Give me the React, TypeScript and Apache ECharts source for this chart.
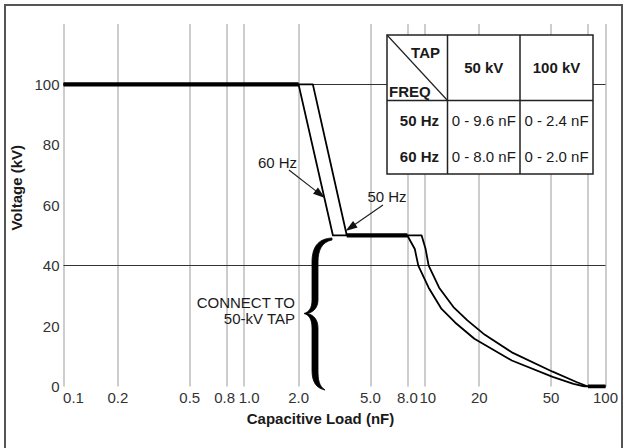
import React, { useEffect, useRef } from 'react';
import * as echarts from 'echarts';

// ---------- data ----------
const xTicks = [0.1, 0.2, 0.5, 0.8, 1.0, 2.0, 5.0, 8.0, 10, 20, 50, 80, 100];
const xTickLabels = ['0.1', '0.2', '0.5', '0.8', '1.0', '2.0', '5.0', '8.0', '10', '20', '50', '80', '100'];
const yRefLines = [40, 100];

// [capacitive load nF, voltage kV]
const curve60Hz: [number, number][] = [
  [0.1, 100], [2.0, 100], [3.1, 50], [8.0, 50], [8.8, 45.5], [9.2, 40], [10.5, 32.7],
  [12.3, 25.9], [14.7, 21.2], [18.8, 15.8], [30.3, 8.6], [51, 3.2], [66.5, 0.85], [77, 0], [100, 0],
];
const curve50Hz: [number, number][] = [
  [0.1, 100], [2.4, 100], [3.7, 50], [9.6, 50], [10.1, 45.5], [10.5, 40], [12.0, 32.7],
  [14.4, 26.3], [17.2, 21.9], [21.5, 17.1], [30.3, 11.3], [51, 4.9], [69, 1.5], [80, 0], [100, 0],
];
// segments where both curves coincide (drawn heavier)
const sharedLimits: [number, number][][] = [
  [[0.1, 100], [2.0, 100]],
  [[3.7, 50], [8.0, 50]],
  [[80, 0], [100, 0]],
];

const tapHeaders = ['50 kV', '100 kV'];
const freqRows = ['50 Hz', '60 Hz'];
const tapRanges = [
  ['0 - 9.6 nF', '0 - 2.4 nF'],
  ['0 - 8.0 nF', '0 - 2.0 nF'],
];

// ---------- style ----------
const FONT = '"Liberation Sans", Arial, Helvetica, sans-serif';
const xLabelShift = [10, 0, 0, -2, 5, 0, 0, 0, 3, 0, 0, -3, 0];

const BRACE_PATH =
  'M332 238 C320 238.5 312 245 312 262 L312 300 C312 308 309 312 304 313.5 ' +
  'C309 315 312 319 312 328 L312 370 C312 382 316 388 325 390 ' +
  'C319 386 318 380 318 370 L318 328 C318 320 314 315 307.5 313.5 ' +
  'C314 312 318 307 318 300 L318 262 C318 250 322 242 332 240 Z';
echarts.graphic.registerShape('brace', echarts.graphic.extendPath(BRACE_PATH, {}));

function txt(x: number, y: number, text: string, o: { align?: string; bold?: boolean } = {}) {
  return {
    type: 'text',
    x,
    y,
    z: 10,
    style: {
      text,
      fontFamily: FONT,
      fontSize: 15,
      fontWeight: o.bold ? 'bold' : 'normal',
      fill: '#1a1a1a',
      align: o.align || 'center',
      verticalAlign: 'middle',
    },
  };
}

function seg(x1: number, y1: number, x2: number, y2: number, w = 1.5, c = '#222') {
  return { type: 'line', z: 10, shape: { x1, y1, x2, y2 }, style: { stroke: c, lineWidth: w } };
}

function arrow(x1: number, y1: number, x2: number, y2: number) {
  const dx = x2 - x1;
  const dy = y2 - y1;
  const L = Math.hypot(dx, dy);
  const ux = dx / L;
  const uy = dy / L;
  const hl = 12;
  const hw = 4;
  const bx = x2 - ux * hl;
  const by = y2 - uy * hl;
  return [
    seg(x1, y1, bx + ux * 2, by + uy * 2, 1.2, '#222'),
    {
      type: 'polygon',
      z: 10,
      shape: { points: [[x2, y2], [bx - uy * hw, by + ux * hw], [bx + uy * hw, by - ux * hw]] },
      style: { fill: '#111' },
    },
  ];
}

export default function App() {
  const ref = useRef<HTMLDivElement>(null);

  useEffect(() => {
    if (!ref.current) return;
    const chart = echarts.init(ref.current, undefined, { renderer: 'svg' });

    const tickPos = xTicks.map((v) => Math.min(2, Math.max(-1, Math.log10(v))));
    const rich: Record<string, any> = {};
    xLabelShift.forEach((s, i) => {
      rich['t' + i] = {
        fontFamily: FONT,
        fontSize: 15,
        color: '#333',
        padding: s >= 0 ? [0, 0, 0, 2 * s] : [0, -2 * s, 0, 0],
      };
    });

    const table = {
      x: 387, y: 35, c1: 447.5, c2: 520, r: 100.5, right: 593, bottom: 174,
    };
    const colCenters = [(table.c1 + table.c2) / 2, (table.c2 + table.right) / 2];
    const rowYs = [120, 156];

    const graphics: any[] = [
      {
        type: 'rect',
        z: 0,
        shape: { x: 5, y: 5, width: 617, height: 470 },
        style: { fill: 'none', stroke: '#555', lineWidth: 2 },
      },
      {
        type: 'rect',
        z: 9,
        shape: { x: table.x, y: table.y, width: table.right - table.x, height: table.bottom - table.y },
        style: { fill: '#fff', stroke: '#222', lineWidth: 1.5 },
      },
      seg(table.c1, table.y, table.c1, table.bottom),
      seg(table.c2, table.y, table.c2, table.bottom),
      seg(table.x, table.r, table.right, table.r),
      seg(table.x, table.y, table.c1, table.r, 1.2),
      txt(440, 52, 'TAP', { align: 'right', bold: true }),
      txt(389, 91, 'FREQ', { align: 'left', bold: true }),
      ...tapHeaders.map((h, i) => txt(colCenters[i], 67, h, { bold: true })),
      ...freqRows.map((f, r) => txt(439, rowYs[r], f, { align: 'right', bold: true })),
      ...tapRanges.flatMap((row, r) => row.map((s, c) => txt(colCenters[c], rowYs[r], s))),
      txt(277.5, 162, '60 Hz'),
      ...arrow(289, 170, 325, 198),
      txt(387, 196, '50 Hz'),
      ...arrow(383, 205, 345.5, 231),
      txt(295, 302.7, 'CONNECT TO', { align: 'right' }),
      txt(295, 318.3, '50-kV TAP', { align: 'right' }),
      {
        type: 'brace',
        z: 10,
        x: 0,
        y: 0,
        style: { fill: '#000', stroke: '#000', lineWidth: 0.8, lineJoin: 'round' },
      },
    ];

    const option: any = {
      animation: false,
      backgroundColor: '#fff',
      grid: { left: 63.5, right: 18.5, top: 24, bottom: 61.5, containLabel: false, outerBoundsMode: 'none' },
      xAxis: [
        { type: 'log', logBase: 10, min: 0.1, max: 100, show: false },
        {
          type: 'value',
          min: -1,
          max: 2,
          position: 'bottom',
          axisLine: { show: false },
          axisTick: { show: false },
          splitLine: { show: false },
          axisLabel: {
            customValues: tickPos,
            showMinLabel: true,
            showMaxLabel: true,
            hideOverlap: false,
            fontFamily: FONT,
            fontSize: 15,
            color: '#333',
            margin: 3,
            rich,
            formatter: (v: number) => {
              let best = 0;
              tickPos.forEach((p, i) => {
                if (Math.abs(p - v) < Math.abs(tickPos[best] - v)) best = i;
              });
              return '{t' + best + '|' + xTickLabels[best] + '}';
            },
          },
          name: 'Capacitive Load (nF)',
          nameLocation: 'middle',
          nameGap: 24,
          nameTextStyle: {
            fontFamily: FONT,
            fontSize: 15,
            fontWeight: 'bold',
            color: '#1a1a1a',
            padding: [0, 28, 0, 0],
          },
        },
      ],
      yAxis: {
        type: 'value',
        min: 0,
        max: 120,
        interval: 20,
        axisLine: { show: false },
        axisTick: { show: false },
        splitLine: { show: false },
        axisLabel: {
          fontFamily: FONT,
          fontSize: 15,
          color: '#333',
          margin: 4,
          formatter: (v: number) => (v > 100 ? '' : String(v)),
        },
        name: 'Voltage (kV)',
        nameLocation: 'middle',
        nameRotate: 90,
        nameGap: 29,
        nameTextStyle: {
          fontFamily: FONT,
          fontSize: 15,
          fontWeight: 'bold',
          color: '#1a1a1a',
          padding: [0, 0, 0, 35],
        },
      },
      series: [
        {
          name: '60 Hz',
          type: 'line',
          xAxisIndex: 0,
          data: curve60Hz,
          symbol: 'none',
          z: 3,
          lineStyle: { color: '#000', width: 1.8, join: 'round' },
          markLine: {
            z: 1,
            silent: true,
            symbol: ['none', 'none'],
            label: { show: false },
            data: [
              ...xTicks.map((v) => ({ xAxis: v, lineStyle: { color: '#bcbcbc', width: 1.5, type: 'solid' } })),
              ...yRefLines.map((v) => ({ yAxis: v, lineStyle: { color: '#333', width: 1.2, type: 'solid' } })),
            ],
          },
        },
        {
          name: '50 Hz',
          type: 'line',
          xAxisIndex: 0,
          data: curve50Hz,
          symbol: 'none',
          z: 3,
          lineStyle: { color: '#000', width: 1.8, join: 'round' },
        },
        ...sharedLimits.map((s) => ({
          name: 'Both',
          type: 'line',
          xAxisIndex: 0,
          data: s,
          symbol: 'none',
          z: 4,
          lineStyle: { color: '#000', width: 4.2 },
        })),
      ],
      graphic: { elements: graphics },
    };

    chart.setOption(option);
    return () => chart.dispose();
  }, []);

  return (
    <div
      ref={ref}
      style={{ position: 'absolute', left: 0, top: 0, width: 624, height: 448 }}
    />
  );
}
